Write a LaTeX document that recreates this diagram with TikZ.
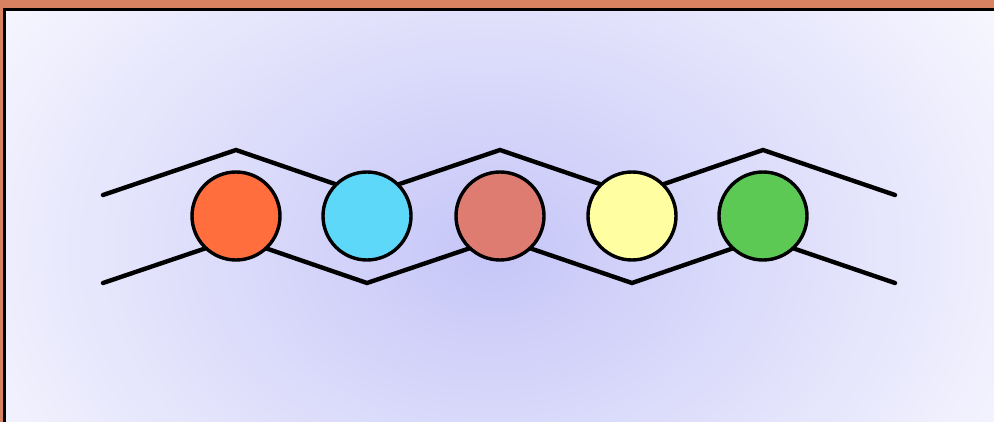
\documentclass[tikz,border=0pt]{standalone}
\definecolor{frameorange}{HTML}{D98262}
\definecolor{lavcenter}{HTML}{C6C6F8}
\definecolor{lavedge}{HTML}{FAFAFF}
\definecolor{ballorange}{HTML}{FF6E3C}
\definecolor{ballblue}{HTML}{5ED8F8}
\definecolor{ballrose}{HTML}{DE7C72}
\definecolor{ballyellow}{HTML}{FFFFA2}
\definecolor{ballgreen}{HTML}{5CC955}
\tikzset{
  ball/.style={circle, draw=black, line width=3.4pt, minimum size=88pt, inner sep=0pt},
  wire/.style={draw=black, line width=4.4pt, line cap=round, line join=miter}
}
\begin{document}
\begin{tikzpicture}[x=1pt,y=-1pt]
\useasboundingbox (0,0) rectangle (994,422);
% outer frame background
\fill[frameorange] (0,0) rectangle (994,422);
% panel with soft radial gradient
\begin{scope}
  \clip (4.5,9) rectangle (1000,430);
  \fill[lavedge] (4.5,9) rectangle (1000,430);
  \shade[inner color=lavcenter, outer color=lavedge] (490,250) ellipse (640 and 470);
\end{scope}
\draw[black, line width=3pt] (4.5,440) -- (4.5,9.5) -- (1000,9.5);
% zigzag coordinates
\coordinate (t0) at (103,195);
\coordinate (t1) at (236,150);
\coordinate (t2) at (367,195);
\coordinate (t3) at (500,150);
\coordinate (t4) at (632,195);
\coordinate (t5) at (763,150);
\coordinate (t6) at (895,195);
\coordinate (b0) at (103,283);
\coordinate (b1) at (236,238);
\coordinate (b2) at (367,283);
\coordinate (b3) at (500,238);
\coordinate (b4) at (632,283);
\coordinate (b5) at (763,238);
\coordinate (b6) at (895,283);
\draw[wire] (t0) -- (t1) -- (t2) -- (t3) -- (t4) -- (t5) -- (t6);
\draw[wire] (b0) -- (b1) -- (b2) -- (b3) -- (b4) -- (b5) -- (b6);
% balls
\node[ball, fill=ballorange] (c1) at (236,216) {};
\node[ball, fill=ballblue]   (c2) at (367,216) {};
\node[ball, fill=ballrose]   (c3) at (500,216) {};
\node[ball, fill=ballyellow] (c4) at (632,216) {};
\node[ball, fill=ballgreen]  (c5) at (763,216) {};
\end{tikzpicture}
\end{document}
